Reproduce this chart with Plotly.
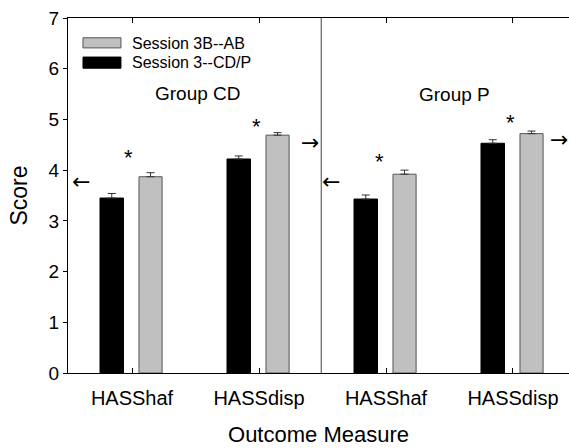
import plotly.graph_objects as go

categories = ["HASShaf", "HASSdisp", "HASShaf", "HASSdisp"]
x_pos = [0, 1, 2, 3]
black_vals = [3.45, 4.22, 3.43, 4.53]
black_err = [0.09, 0.06, 0.08, 0.07]
gray_vals = [3.87, 4.69, 3.92, 4.72]
gray_err = [0.08, 0.05, 0.08, 0.05]
series_names = ["Session 3B--AB", "Session 3--CD/P"]
group_labels = ["Group CD", "Group P"]
arrow_vals = [3.78, 4.55, 3.78, 4.60]
star_vals = [4.24, 4.87, 4.18, 4.94]

FONT = "Liberation Sans, Arial, sans-serif"

fig = go.Figure()
fig.add_trace(go.Bar(
    x=x_pos, y=black_vals, name=series_names[1],
    width=0.185, offset=-0.252,
    marker=dict(color="black", line=dict(color="black", width=1)),
    error_y=dict(type="data", array=black_err, arrayminus=[0]*4, symmetric=False,
                 color="#333333", thickness=1, width=4),
    showlegend=False,
))
fig.add_trace(go.Bar(
    x=x_pos, y=gray_vals, name=series_names[0],
    width=0.182, offset=0.055,
    marker=dict(color="#c0c0c0", line=dict(color="#555555", width=1)),
    error_y=dict(type="data", array=gray_err, arrayminus=[0]*4, symmetric=False,
                 color="#333333", thickness=1, width=4),
    showlegend=False,
))

annotations = []
annotations.append(dict(x=0.52, y=5.52, text=group_labels[0], showarrow=False,
                        font=dict(family=FONT, size=19, color="black"), xanchor="center", yanchor="middle"))
annotations.append(dict(x=2.54, y=5.50, text=group_labels[1], showarrow=False,
                        font=dict(family=FONT, size=19, color="black"), xanchor="center", yanchor="middle"))
star_x = [-0.03, 0.98, 1.95, 2.98]
for sx, sv in zip(star_x, star_vals):
    annotations.append(dict(x=sx, y=sv, text="*", showarrow=False,
                            font=dict(family=FONT, size=22, color="black"),
                            xanchor="center", yanchor="middle"))
arrow_x = [-0.40, 1.40, 1.57, 3.36]
arrow_txt = ["←", "→", "←", "→"]
for ax_, av, at in zip(arrow_x, arrow_vals, arrow_txt):
    annotations.append(dict(x=ax_, y=av, text=at, showarrow=False,
                            font=dict(family="DejaVu Sans", size=22, color="black"),
                            xanchor="center", yanchor="middle"))
annotations.append(dict(x=-0.016, y=6.50, text=series_names[0], showarrow=False,
                        font=dict(family=FONT, size=16, color="black"), xanchor="left", yanchor="middle"))
annotations.append(dict(x=-0.016, y=6.12, text=series_names[1], showarrow=False,
                        font=dict(family=FONT, size=16, color="black"), xanchor="left", yanchor="middle"))

shapes = [
    dict(type="line", x0=1.49, x1=1.49, y0=0, y1=7, xref="x", yref="y",
         line=dict(color="#444444", width=1)),
    dict(type="rect", x0=-0.386, x1=-0.087, y0=6.41, y1=6.61, xref="x", yref="y",
         fillcolor="#c0c0c0", line=dict(color="#555555", width=1)),
    dict(type="rect", x0=-0.386, x1=-0.087, y0=6.01, y1=6.23, xref="x", yref="y",
         fillcolor="black", line=dict(color="black", width=1)),
]

fig.update_layout(
    width=569, height=448,
    margin=dict(l=68, r=0, t=18, b=75),
    plot_bgcolor="white", paper_bgcolor="white",
    barmode="overlay",
    font=dict(family=FONT, color="black"),
    annotations=annotations,
    shapes=shapes,
    showlegend=False,
)
fig.update_xaxes(
    range=[-0.504, 3.441],
    tickvals=x_pos, ticktext=categories,
    ticks="inside", ticklen=5, tickcolor="black",
    showline=True, linecolor="black", linewidth=1, mirror="ticks",
    showgrid=False, zeroline=False,
    ticklabelstandoff=7,
    tickfont=dict(family=FONT, size=20, color="black"),
    title=dict(text="Outcome Measure", font=dict(family=FONT, size=22, color="black"), standoff=18),
)
fig.update_yaxes(
    range=[0, 7], tickvals=list(range(8)),
    ticks="outside", ticklen=4, tickcolor="black",
    showline=True, linecolor="black", linewidth=1, mirror=False,
    showgrid=False, zeroline=False,
    tickfont=dict(family=FONT, size=19, color="black"),
    title=dict(text="Score", font=dict(family=FONT, size=23, color="black"), standoff=14),
)

fig.write_html("out.html", config={"displayModeBar": False},
               post_script="document.body.style.margin='0';document.body.style.overflow='hidden';")
